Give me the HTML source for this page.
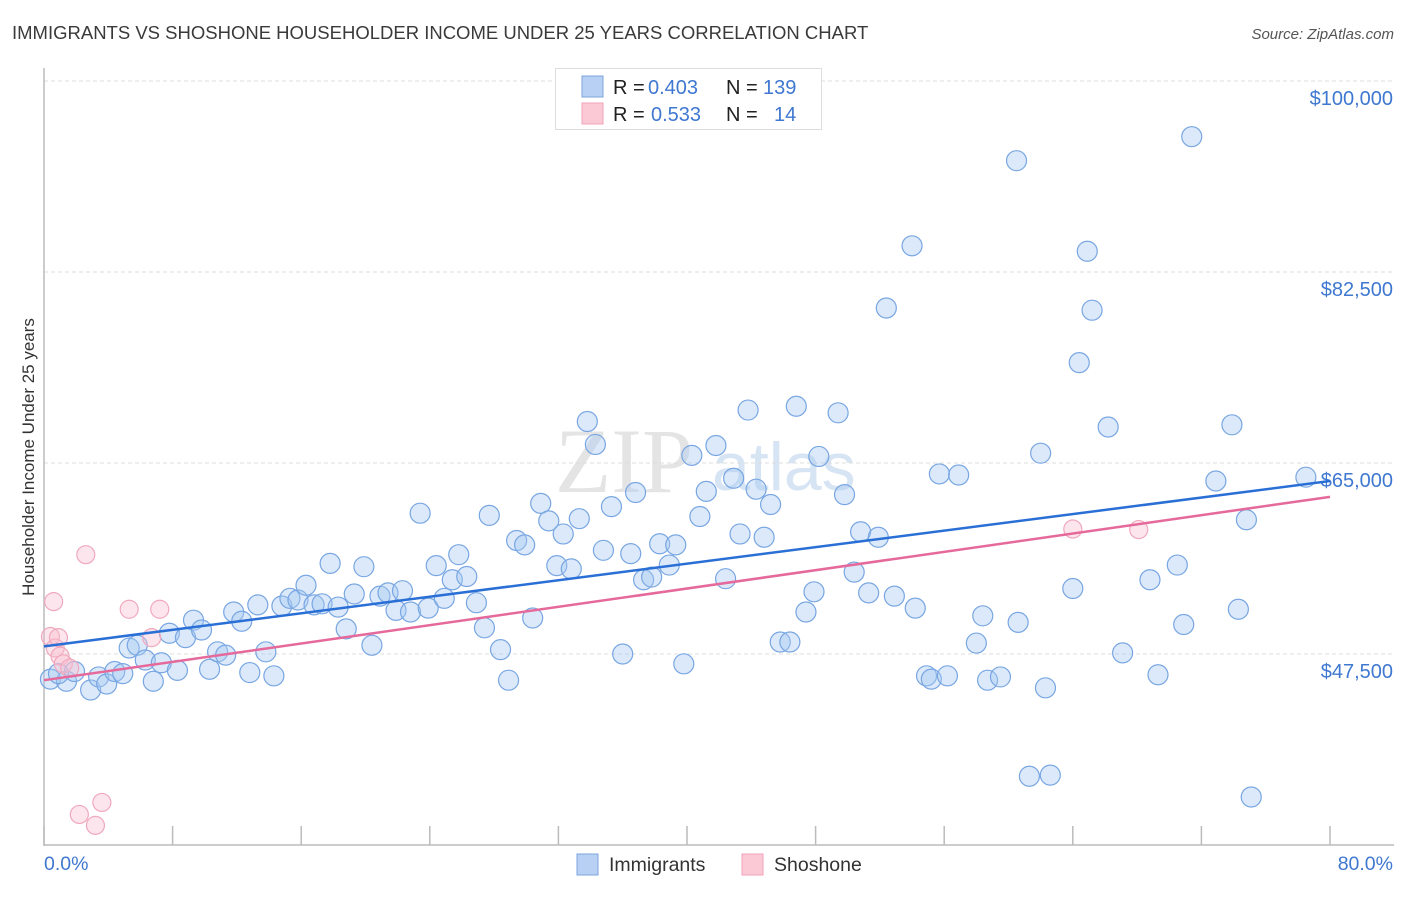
<!DOCTYPE html>
<html><head><meta charset="utf-8"><style>
body{margin:0;background:#fff;width:1406px;height:892px;overflow:hidden;font-family:"Liberation Sans",sans-serif}
</style></head><body>
<svg id="chart" width="1406" height="892" xmlns="http://www.w3.org/2000/svg" font-family="Liberation Sans, sans-serif">
<text x="12" y="39" font-size="18.5" fill="#3a3a3a">IMMIGRANTS VS SHOSHONE HOUSEHOLDER INCOME UNDER 25 YEARS CORRELATION CHART</text>
<text x="1394" y="39" font-size="15" fill="#555" font-style="italic" text-anchor="end">Source: ZipAtlas.com</text>
<text x="555" y="492" font-size="92" fill="#e4e4e4" font-family="Liberation Serif, serif">ZIP</text>
<text x="712" y="490" font-size="68" fill="#d6e4f4">atlas</text>
<g id="grid"></g>
<g id="axes"></g>
<g id="pts"></g>
<g id="lines"></g>
<text transform="translate(34,457) rotate(-90)" font-size="17" fill="#333" text-anchor="middle">Householder Income Under 25 years</text>
<g font-size="20">
<rect x="555.5" y="68.5" width="266" height="61" fill="#fff" stroke="#ddd"/>
<rect x="582" y="76" width="21" height="21" fill="#b7d0f4" stroke="#7ea6dd"/>
<rect x="582" y="103" width="21" height="21" fill="#fbc9d6" stroke="#f2a3b9"/>
<text x="613" y="94" fill="#222">R =</text><text x="648" y="94" fill="#3f78d0">0.403</text>
<text x="726" y="94" fill="#222">N =</text><text x="763" y="94" fill="#3f78d0">139</text>
<text x="613" y="121" fill="#222">R =</text><text x="651" y="121" fill="#3f78d0">0.533</text>
<text x="726" y="121" fill="#222">N =</text><text x="774" y="121" fill="#3f78d0">14</text>
</g>
<g>
<rect x="577" y="854" width="21" height="21" fill="#b7d0f4" stroke="#7ea6dd"/>
<text x="609" y="871" font-size="19.5" fill="#333">Immigrants</text>
<rect x="742" y="854" width="21" height="21" fill="#fbc9d6" stroke="#f2a3b9"/>
<text x="774" y="871" font-size="19.5" fill="#333">Shoshone</text>
</g>
</svg>
<script>
const blueX=[0.4,1.4,0.9,1.9,2.9,3.4,3.9,4.4,4.9,5.3,5.8,6.3,6.8,7.3,7.8,8.3,8.8,9.3,9.8,10.3,10.8,11.3,11.8,12.3,12.8,13.3,13.8,14.3,14.8,15.3,15.8,16.3,16.8,17.3,17.8,18.3,18.8,19.3,19.9,20.4,20.9,21.4,21.9,22.3,22.8,23.4,23.9,24.4,24.9,25.4,25.8,26.3,26.9,27.4,27.7,28.4,28.9,29.4,29.9,30.4,30.9,31.4,31.9,32.3,32.8,33.3,33.8,34.3,34.8,35.3,36.0,36.5,36.8,37.3,37.8,38.3,38.9,39.3,39.8,40.3,40.8,41.2,41.8,42.4,42.9,43.3,43.8,44.3,44.8,45.2,45.8,46.4,46.8,47.4,47.9,48.2,49.4,49.8,50.4,50.8,51.3,51.9,52.4,52.9,54.0,54.2,54.9,55.2,55.7,56.2,56.9,58.0,58.4,58.7,59.5,60.5,60.6,61.3,62.0,62.3,62.6,64.0,64.4,64.9,65.2,66.2,67.1,68.8,69.3,70.5,70.9,71.4,72.9,73.9,74.3,74.8,75.1,78.5];
const blueY=[45.2,45.0,45.7,45.9,44.2,45.4,44.75,45.9,45.7,48.05,48.3,46.95,45.0,46.7,49.4,46.0,49.0,50.6,49.7,46.1,47.7,47.4,51.35,50.5,45.8,52.0,47.7,45.5,51.9,52.6,52.45,53.8,52.0,52.1,55.8,51.8,49.8,53.0,55.5,48.3,52.8,53.1,51.5,53.3,51.35,60.4,51.7,55.6,52.6,54.3,56.6,54.6,52.2,49.9,60.2,47.9,45.1,57.9,57.5,50.8,61.3,59.7,55.6,58.5,55.3,59.9,68.8,66.7,57.0,61.0,47.5,56.7,62.3,54.3,54.55,57.6,55.65,57.5,46.6,65.7,60.1,62.4,66.6,54.4,63.6,58.5,69.85,62.6,58.2,61.2,48.6,48.6,70.2,51.35,53.2,65.6,69.6,62.1,55.0,58.7,53.1,58.2,79.2,52.8,84.9,51.7,45.5,45.2,64.0,45.5,63.9,48.5,51.0,45.1,45.4,92.7,50.4,36.3,65.9,44.4,36.4,53.5,74.2,84.4,79.0,68.3,47.6,54.3,45.6,55.65,50.2,94.9,63.35,68.5,51.6,59.8,34.4,63.7];
const pinkX=[0.4,0.7,1.0,1.2,0.9,1.6,0.6,2.6,5.3,7.2,6.7,2.2,3.2,3.6,64.0,68.1];
const pinkY=[49.1,48.05,47.3,46.6,49.0,46.2,52.3,56.6,51.6,51.6,49.0,32.8,31.8,33.9,58.95,58.9];
const blueTrend=[48.2,63.35];
const pinkTrend=[45.1,61.9];
const yTicks=[47.5,65,82.5,100];
const yTickLabels=["$47,500","$65,000","$82,500","$100,000"];
const xTicks=[0,8,16,24,32,40,48,56,64,72,80];
const NS="http://www.w3.org/2000/svg";
const sx=v=>44+v*(1286/80);
const sy=v=>845-(v-30)*(191/17.5);
function mk(tag,attrs,parent){const e=document.createElementNS(NS,tag);for(const k in attrs)e.setAttribute(k,attrs[k]);document.getElementById(parent).appendChild(e);return e;}
yTicks.forEach((t,i)=>{
 const g=mk('line',{x1:44,x2:1394,y1:sy(t),y2:sy(t),stroke:'#ddd','stroke-dasharray':'4,3'},'grid');
 
 
 const l=mk('text',{x:1393,y:sy(t)+24,'font-size':20,fill:'#3f78d0','text-anchor':'end'},'axes');
 l.textContent=yTickLabels[i];
 
 
});
const ya=mk('line',{x1:44,x2:44,y1:68,y2:846,stroke:'#bbb','stroke-width':1.5},'axes');


const xa=mk('line',{x1:44,x2:1394,y1:845,y2:845,stroke:'#bbb','stroke-width':1.5},'axes');


xTicks.forEach(t=>{
 const k=mk('line',{x1:sx(t),x2:sx(t),y1:826,y2:845,stroke:'#bbb','stroke-width':1.5},'axes');
 
 
});
const x0=mk('text',{x:44,y:870,'font-size':19.5,fill:'#3f78d0'},'axes');x0.textContent='0.0%';


const x1=mk('text',{x:1393,y:870,'font-size':19.5,fill:'#3f78d0','text-anchor':'end'},'axes');x1.textContent='80.0%';


blueX.forEach((x,i)=>{
 const c=mk('circle',{cx:sx(x),cy:sy(blueY[i]),r:10,fill:'rgba(165,200,242,0.4)',stroke:'#78a6e2','stroke-width':1.2},'pts');
 
 
});
pinkX.forEach((x,i)=>{
 const c=mk('circle',{cx:sx(x),cy:sy(pinkY[i]),r:9,fill:'rgba(248,190,208,0.4)',stroke:'#f0a8bd','stroke-width':1.2},'pts');
 
 
});
const bl=mk('line',{x1:sx(0),y1:sy(blueTrend[0]),x2:sx(80),y2:sy(blueTrend[1]),stroke:'#2a6fd6','stroke-width':2.5},'lines');


const pl=mk('line',{x1:sx(0),y1:sy(pinkTrend[0]),x2:sx(80),y2:sy(pinkTrend[1]),stroke:'#e5699a','stroke-width':2.5},'lines');


</script>
</body></html>
